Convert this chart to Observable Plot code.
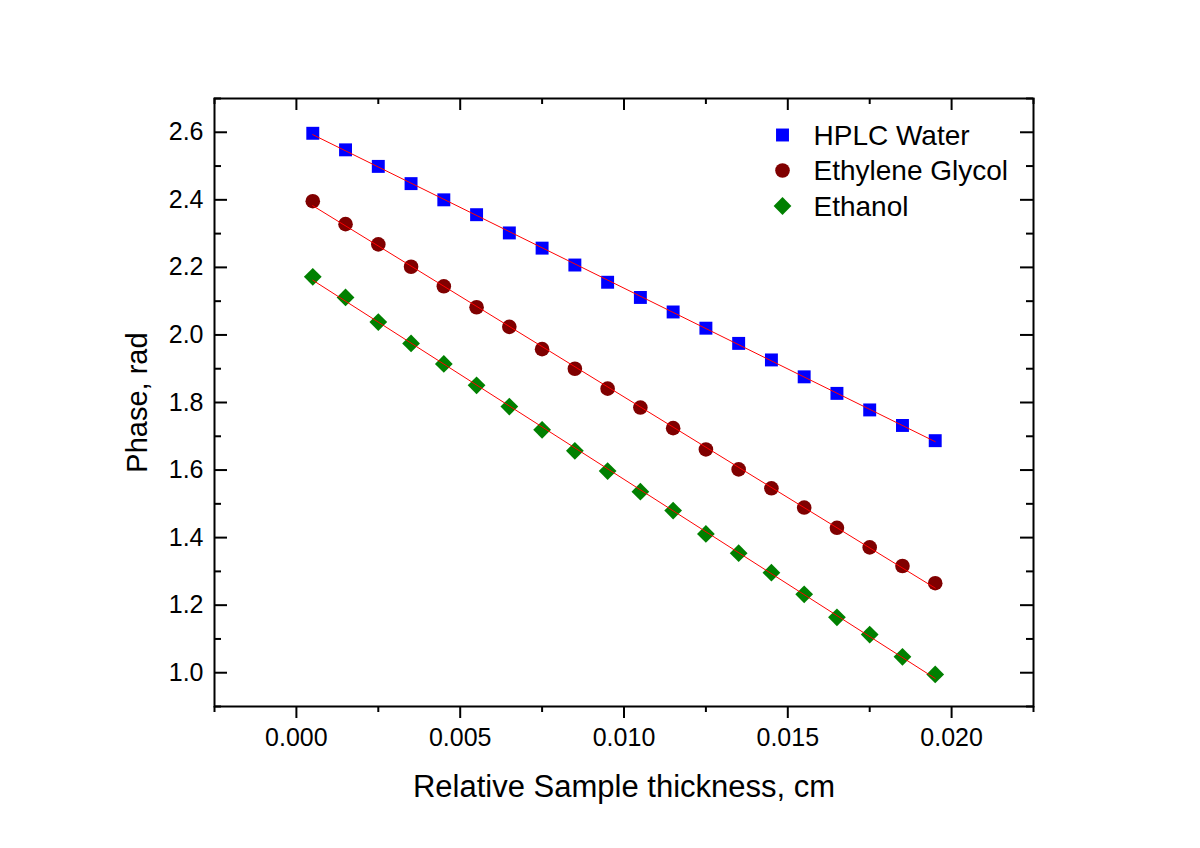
<!DOCTYPE html>
<html>
<head>
<meta charset="utf-8">
<script src="https://cdn.jsdelivr.net/npm/d3@7"></script>
<script src="https://cdn.jsdelivr.net/npm/@observablehq/plot@0.6"></script>
<style>
  html, body { margin: 0; padding: 0; background: #ffffff; }
  #chart { width: 1200px; height: 848px; }
</style>
</head>
<body>
<div id="chart"></div>
<script>
// ---- Data ----
const thickness = [0.0005, 0.0015, 0.0025, 0.0035, 0.0045, 0.0055, 0.0065, 0.0075, 0.0085, 0.0095,
                   0.0105, 0.0115, 0.0125, 0.0135, 0.0145, 0.0155, 0.0165, 0.0175, 0.0185, 0.0195];
const hplcWater = [2.597, 2.548, 2.499, 2.448, 2.400, 2.356, 2.302, 2.257, 2.207, 2.156,
                   2.111, 2.068, 2.020, 1.975, 1.926, 1.876, 1.827, 1.778, 1.732, 1.687];
const ethyleneGlycol = [2.396, 2.328, 2.268, 2.202, 2.144, 2.082, 2.024, 1.958, 1.900, 1.841,
                        1.785, 1.724, 1.661, 1.602, 1.546, 1.489, 1.429, 1.371, 1.316, 1.265];
const ethanol = [2.172, 2.111, 2.038, 1.975, 1.914, 1.851, 1.788, 1.719, 1.657, 1.597,
                 1.536, 1.480, 1.411, 1.354, 1.296, 1.232, 1.164, 1.113, 1.047, 0.995];
const seriesNames = ["HPLC Water", "Ethylene Glycol", "Ethanol"];
const seriesColors = ["#0000ff", "#800000", "#008000"];
const seriesSymbols = ["square", "circle", "diamond2"];
const seriesRadius = [7.3, 7.3, 8];
const xMajorTicks = [0, 0.005, 0.010, 0.015, 0.020];
const xMinorTicks = [-0.0025, 0.0025, 0.0075, 0.0125, 0.0175, 0.0225];
const yMajorTicks = [1.0, 1.2, 1.4, 1.6, 1.8, 2.0, 2.2, 2.4, 2.6];
const yMinorTicks = [0.9, 1.1, 1.3, 1.5, 1.7, 1.9, 2.1, 2.3, 2.5, 2.7];
const xTitle = "Relative Sample thickness, cm";
const yTitle = "Phase, rad";

// ---- Table built from the arrays ----
const seriesValues = [hplcWater, ethyleneGlycol, ethanol];
const rows = [];
seriesValues.forEach((vals, i) => vals.forEach((v, j) => rows.push({series: seriesNames[i], x: thickness[j], y: v})));

const FONT = "Arial, 'Liberation Sans', Helvetica, sans-serif";
const W = 1200, H = 848, ML = 214, MR = 167, MT = 98, MB = 142;
const PW = W - ML - MR, PH = H - MT - MB;
const MAJ = 13, MIN = 7;

const marks = [
  // data markers
  ...seriesNames.map((name, i) => Plot.dot(rows.filter(d => d.series === name), {
    x: "x", y: "y", symbol: seriesSymbols[i], r: seriesRadius[i], fill: seriesColors[i], stroke: "none"
  })),
  // linear fits
  Plot.linearRegressionY(rows, {x: "x", y: "y", z: "series", stroke: "#ff0000", strokeWidth: 1, ci: 0}),
  // frame
  Plot.frame({stroke: "black", strokeWidth: 2}),
  // y ticks (inward, both sides)
  Plot.ruleY(yMajorTicks, {y: d => d, insetRight: PW - MAJ, stroke: "black", strokeWidth: 2}),
  Plot.ruleY(yMinorTicks, {y: d => d, insetRight: PW - MIN, stroke: "black", strokeWidth: 2}),
  Plot.ruleY(yMajorTicks, {y: d => d, insetLeft: PW - MAJ, stroke: "black", strokeWidth: 2}),
  Plot.ruleY(yMinorTicks, {y: d => d, insetLeft: PW - MIN, stroke: "black", strokeWidth: 2}),
  // x ticks (outward at bottom, inward at top)
  Plot.ruleX(xMajorTicks, {x: d => d, insetTop: PH, insetBottom: -12, stroke: "black", strokeWidth: 2}),
  Plot.ruleX(xMinorTicks, {x: d => d, insetTop: PH, insetBottom: -6, stroke: "black", strokeWidth: 2}),
  Plot.ruleX(xMajorTicks, {x: d => d, insetBottom: PH - 12, stroke: "black", strokeWidth: 2}),
  Plot.ruleX(xMinorTicks, {x: d => d, insetBottom: PH - 6, stroke: "black", strokeWidth: 2}),
  // axis titles
  Plot.text([xTitle], {text: d => d, frameAnchor: "bottom", dy: 81, lineAnchor: "middle", textAnchor: "middle", fontSize: 31, fill: "black"}),
  Plot.text([yTitle], {text: d => d, frameAnchor: "left", dx: -77, rotate: -90, lineAnchor: "middle", textAnchor: "middle", fontSize: 29, fill: "black"}),
  // legend
  ...seriesNames.map((name, i) => Plot.dot([name], {
    frameAnchor: "top-left", dx: 568, dy: 36.5 + 35.5 * i, symbol: seriesSymbols[i], r: seriesRadius[i], fill: seriesColors[i], stroke: "none"
  })),
  ...seriesNames.map((name, i) => Plot.text([name], {
    text: d => d, frameAnchor: "top-left", dx: 599, dy: 37.5 + 35.5 * i, textAnchor: "start", lineAnchor: "middle", fontSize: 28, fill: "black"
  }))
];

const chart = Plot.plot({
  width: W,
  height: H,
  marginTop: MT,
  marginBottom: MB,
  marginLeft: ML,
  marginRight: MR,
  style: {fontFamily: FONT, fontSize: "25px", background: "#ffffff", color: "black"},
  x: {domain: [-0.0025, 0.0225], axis: "bottom", ticks: xMajorTicks, tickSize: 0, tickPadding: 22, tickFormat: d3.format(".3f"), label: null},
  y: {domain: [0.9, 2.7], axis: "left", ticks: yMajorTicks, tickSize: 0, tickPadding: 11, tickFormat: d3.format(".1f"), label: null},
  marks
});
document.getElementById("chart").appendChild(chart);
</script>
</body>
</html>
